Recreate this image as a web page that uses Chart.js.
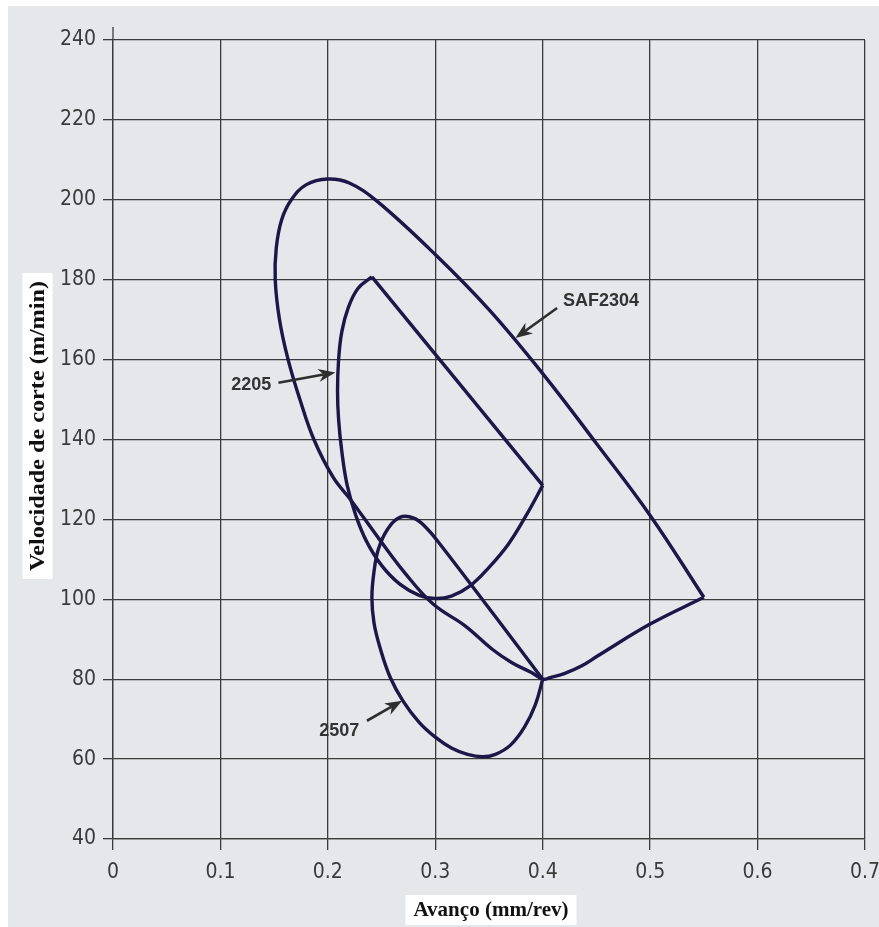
<!DOCTYPE html>
<html>
<head>
<meta charset="utf-8">
<script src="https://cdn.jsdelivr.net/npm/chart.js@4.4.0/dist/chart.umd.min.js"></script>
<style>
  html, body { margin: 0; padding: 0; background: #fff; }
  canvas { display: block; }
</style>
</head>
<body>
<canvas id="chart" width="879" height="927"></canvas>
<script>
// feed (mm/rev) and cutting speed (m/min)

// SAF2304: closed loop, starts and ends at the right-hand corner
const saf2304Feed  = [0.55, 0.5, 0.451, 0.436, 0.42, 0.407, 0.4, 0.39, 0.371, 0.353, 0.328, 0.298, 0.272, 0.248, 0.221, 0.205, 0.187, 0.174, 0.163, 0.155, 0.151, 0.152, 0.157, 0.166, 0.18, 0.2, 0.22, 0.246, 0.3, 0.35, 0.4, 0.45, 0.5, 0.55];
const saf2304Speed = [100.5, 93.8, 85.8, 83.3, 81.4, 80.4, 80, 81.6, 84.2, 87.5, 93.3, 98.8, 106.5, 115, 125, 130.5, 140, 150, 160, 170, 180, 188, 195, 200, 203.8, 205.2, 204.2, 199.6, 186.3, 172.5, 156.5, 139, 121, 100.5];

// 2205: rounded part (right corner -> bottom -> left side -> top tip)
const g2205CurveFeed  = [0.4, 0.385, 0.368, 0.35, 0.332, 0.315, 0.3, 0.285, 0.267, 0.25, 0.236, 0.226, 0.218, 0.213, 0.21, 0.209, 0.21, 0.213, 0.219, 0.228, 0.241];
const g2205CurveSpeed = [128.5, 121.2, 113.8, 108, 103.3, 100.8, 100.2, 101, 103.8, 108.5, 114.5, 121, 128.5, 137, 145, 152, 160, 167, 173, 177.8, 180.7];
// 2205: straight edge (top tip -> right corner)
const g2205EdgeFeed  = [0.241, 0.4];
const g2205EdgeSpeed = [180.7, 128.5];

// 2507: closed loop, starts and ends at the corner (0.4, 80)
const g2507Feed  = [0.4, 0.393, 0.383, 0.37, 0.356, 0.344, 0.33, 0.315, 0.3, 0.285, 0.27, 0.258, 0.249, 0.243, 0.241, 0.243, 0.247, 0.255, 0.267, 0.28, 0.292, 0.305, 0.355, 0.4];
const g2507Speed = [80, 73.5, 68, 63.5, 61.2, 60.6, 61.2, 62.8, 65.5, 69.2, 74.5, 80.5, 87.5, 94, 100.5, 107, 112.5, 117.3, 120.5, 120.3, 117.8, 113.6, 96, 80];

const xTicks = [0, 0.1, 0.2, 0.3, 0.4, 0.5, 0.6, 0.7];
const yTicks = [40, 60, 80, 100, 120, 140, 160, 180, 200, 220, 240];

const xTitle = 'Avanço (mm/rev)';
const yTitle = 'Velocidade de corte (m/min)';

// curve labels with arrows, in data units
const callouts = [
  { text: 'SAF2304', tx: 0.4543, ty: 174.75, from: [0.4134, 172.9], to: [0.3746, 165.4] },
  { text: '2205',    tx: 0.1286, ty: 153.75, from: [0.154, 154.2],  to: [0.207, 156.8] },
  { text: '2507',    tx: 0.2106, ty: 67,     from: [0.2364, 69.6],  to: [0.2691, 74.6] }
];

function pts(xs, ys) {
  return xs.map((x, i) => ({ x: x, y: ys[i] }));
}

const lineColor = '#1b1748';
function curve(data, tension) {
  return {
    data: data,
    showLine: true,
    borderColor: lineColor,
    borderWidth: 3.4,
    borderJoinStyle: 'miter',
    pointRadius: 0,
    tension: tension,
    fill: false
  };
}

function arrow(ctx, x1, y1, x2, y2) {
  const a = Math.atan2(y2 - y1, x2 - x1);
  const len = 17, half = 6.5, notch = 12;
  ctx.save();
  ctx.strokeStyle = '#2e2e2e';
  ctx.fillStyle = '#2e2e2e';
  ctx.lineWidth = 2.6;
  ctx.beginPath();
  ctx.moveTo(x1, y1);
  ctx.lineTo(x2 - Math.cos(a) * notch, y2 - Math.sin(a) * notch);
  ctx.stroke();
  ctx.translate(x2, y2);
  ctx.rotate(a);
  ctx.beginPath();
  ctx.moveTo(0, 0);
  ctx.lineTo(-len, -half);
  ctx.lineTo(-notch, 0);
  ctx.lineTo(-len, half);
  ctx.closePath();
  ctx.fill();
  ctx.restore();
}

function boxTitle(ctx, text, cx, cy, span, vertical) {
  ctx.save();
  ctx.translate(cx, cy);
  if (vertical) ctx.rotate(-Math.PI / 2);
  ctx.font = 'bold 21px "Liberation Serif", "DejaVu Serif", serif';
  const w = ctx.measureText(text).width;
  ctx.fillStyle = '#fff';
  ctx.fillRect(-span / 2 - 8, -15, span + 16, 30);
  ctx.scale(span / w, 1);
  ctx.fillStyle = '#111';
  ctx.textAlign = 'center';
  ctx.textBaseline = 'middle';
  ctx.fillText(text, 0, 1);
  ctx.restore();
}

const decor = {
  id: 'decor',
  beforeDraw(chart) {
    const ctx = chart.ctx;
    ctx.save();
    ctx.fillStyle = '#fff';
    ctx.fillRect(0, 0, chart.width, chart.height);
    ctx.fillStyle = '#e5e7ea';
    ctx.fillRect(8, 6, chart.width - 8, chart.height - 6);
    ctx.restore();
  },
  afterDraw(chart) {
    const ctx = chart.ctx;
    const xs = chart.scales.x, ys = chart.scales.y;
    const area = chart.chartArea;

    // y axis runs a little above the top grid line
    ctx.save();
    ctx.strokeStyle = '#3b3b3b';
    ctx.lineWidth = 1.3;
    ctx.beginPath();
    ctx.moveTo(area.left, area.top - 13);
    ctx.lineTo(area.left, area.top);
    ctx.stroke();
    ctx.restore();

    callouts.forEach(c => {
      arrow(ctx, xs.getPixelForValue(c.from[0]), ys.getPixelForValue(c.from[1]),
                 xs.getPixelForValue(c.to[0]), ys.getPixelForValue(c.to[1]));
      ctx.save();
      ctx.font = 'bold 18px "Liberation Sans", Arial, sans-serif';
      ctx.fillStyle = '#333';
      ctx.textAlign = 'center';
      ctx.textBaseline = 'middle';
      ctx.fillText(c.text, xs.getPixelForValue(c.tx), ys.getPixelForValue(c.ty));
      ctx.restore();
    });

    boxTitle(ctx, yTitle, 37.5, 426, 290, true);
    boxTitle(ctx, xTitle, 491, 910, 155, false);
  }
};

const tickFont = { family: '"Liberation Sans Narrow", "DejaVu Sans Condensed", sans-serif', size: 21 };

new Chart(document.getElementById('chart'), {
  type: 'scatter',
  data: {
    datasets: [
      curve(pts(saf2304Feed, saf2304Speed), 0.4),
      curve(pts(g2205CurveFeed, g2205CurveSpeed), 0.4),
      curve(pts(g2205EdgeFeed, g2205EdgeSpeed), 0),
      curve(pts(g2507Feed, g2507Speed), 0.4)
    ]
  },
  options: {
    responsive: false,
    animation: false,
    layout: { padding: { top: 40, right: 14, left: 0, bottom: 0 } },
    plugins: {
      legend: { display: false },
      tooltip: { enabled: false }
    },
    scales: {
      x: {
        type: 'linear',
        min: 0,
        max: 0.7,
        afterBuildTicks: s => { s.ticks = xTicks.map(v => ({ value: v })); },
        afterFit: s => { s.height = 88; s.paddingLeft = 0; s.paddingRight = 0; },
        ticks: {
          padding: 10,
          color: '#3a3a3a',
          font: tickFont,
          maxRotation: 0,
          callback: v => String(Number(v.toFixed(1)))
        },
        grid: { color: '#3b3b3b', lineWidth: 1.3, tickLength: 11 },
        border: { color: '#3b3b3b', width: 1.3 }
      },
      y: {
        min: 40,
        max: 240,
        afterBuildTicks: s => { s.ticks = yTicks.map(v => ({ value: v })); },
        afterFit: s => { s.width = 113; s.paddingTop = 0; s.paddingBottom = 0; },
        ticks: {
          padding: 7,
          color: '#3a3a3a',
          font: tickFont
        },
        grid: { color: '#3b3b3b', lineWidth: 1.3, tickLength: 10 },
        border: { color: '#3b3b3b', width: 1.3 }
      }
    }
  },
  plugins: [decor]
});
</script>
</body>
</html>
